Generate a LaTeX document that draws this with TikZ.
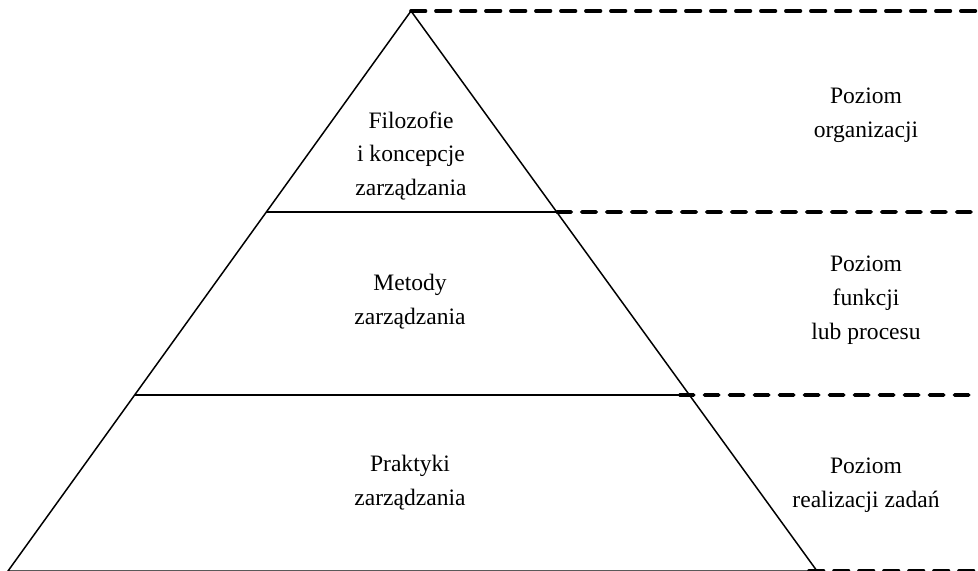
\documentclass[tikz,border=0pt]{standalone}
\usepackage{fontspec}
\setmainfont{Liberation Serif}
\usepackage{tikz}
\usetikzlibrary{positioning,calc}

\begin{document}
\begin{tikzpicture}[
  x=0.02cm, y=-0.02cm,
  lvltext/.style={
    font=\fontsize{13.4}{19.3}\selectfont, align=center, inner sep=0pt
  },
  edge/.style={line width=0.85pt, black},
  guide/.style={line width=2.1pt, line cap=round, dash pattern=on 0.29cm off 0.21cm},
]
\useasboundingbox (0,0) rectangle (978,571);

% pyramid corners
\coordinate (apex)  at (411,11);
\coordinate (bl)    at (8,571);
\coordinate (br)    at (817,571);
\coordinate (l1)    at ($(apex)!0.3589!(bl)$);
\coordinate (r1)    at ($(apex)!0.3589!(br)$);
\coordinate (l2)    at ($(apex)!0.6857!(bl)$);
\coordinate (r2)    at ($(apex)!0.6857!(br)$);
\coordinate (e0)    at (978,11);
\coordinate (e1)    at (978,212);
\coordinate (e2)    at (978,395);
\coordinate (e3)    at (978,571);

\draw[edge] (bl) -- (apex) -- (br) -- cycle;
\draw[edge] (l1) -- (r1);
\draw[edge] (l2) -- (r2);

\draw[guide] (apex) -- (e0);
\draw[guide] (r1) -- (e1);
\draw[guide] ($(r2)+(-10,0)$) -- (e2);
\draw[guide] ($(br)+(-8,0)$) -- (e3);

\node[lvltext] (filo)  at (411,156) {Filozofie\\i koncepcje\\zarządzania};
\node[lvltext] (met)   at (410,302) {Metody\\zarządzania};
\node[lvltext] (prak)  at (410,483) {Praktyki\\zarządzania};

\node[lvltext] (porg)  at (866,115) {Poziom\\organizacji};
\node[lvltext] (pfun)  at (866,300) {Poziom\\funkcji\\lub procesu};
\node[lvltext] (preal) at (866,485) {Poziom\\realizacji zadań};

\end{tikzpicture}
\end{document}
